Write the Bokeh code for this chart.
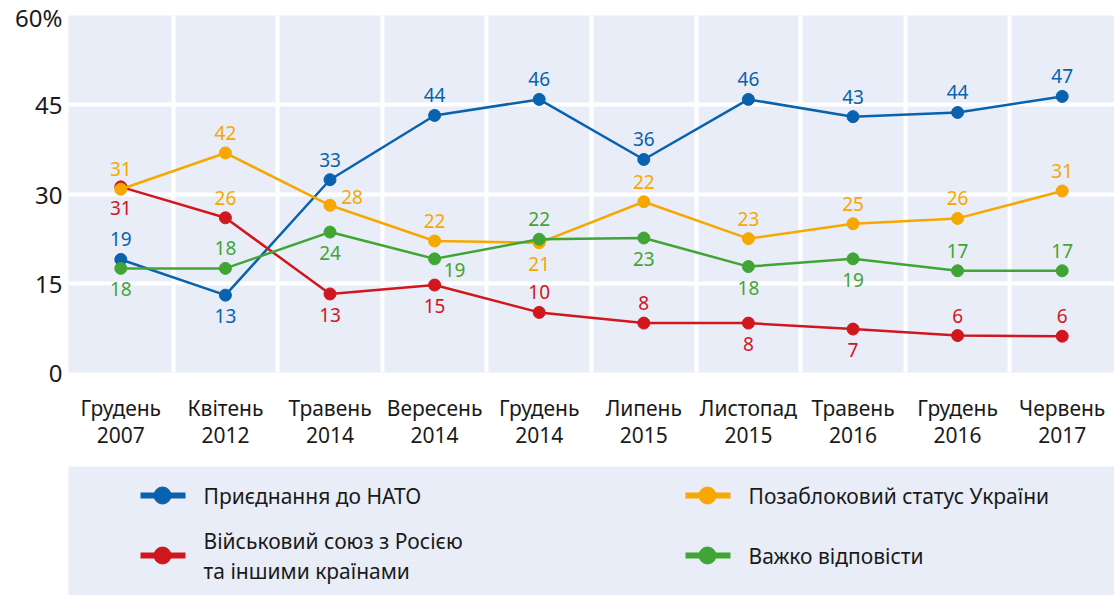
from bokeh.plotting import figure
from bokeh.models import FixedTicker, Range1d, ColumnDataSource, LinearAxis
from bokeh.layouts import column
from bokeh.core.properties import value
from bokeh.embed import file_html
from bokeh.resources import INLINE

# ---------------- data ----------------
categories = ["Грудень\n2007", "Квітень\n2012", "Травень\n2014", "Вересень\n2014", "Грудень\n2014",
              "Липень\n2015", "Листопад\n2015", "Травень\n2016", "Грудень\n2016", "Червень\n2017"]

series_names = ["Приєднання до НАТО", "Військовий союз з Росією\nта іншими країнами",
                "Позаблоковий статус України", "Важко відповісти"]

nato = [19.0, 13.0, 32.4, 43.2, 45.9, 35.8, 45.9, 43.0, 43.7, 46.4]
nato_labels = ["19", "13", "33", "44", "46", "36", "46", "43", "44", "47"]

russia = [31.2, 26.0, 13.2, 14.7, 10.1, 8.3, 8.3, 7.3, 6.2, 6.1]
russia_labels = ["31", "26", "13", "15", "10", "8", "8", "7", "6", "6"]

nonbloc = [30.8, 36.9, 28.1, 22.1, 21.8, 28.7, 22.5, 25.0, 25.9, 30.5]
nonbloc_labels = ["31", "42", "28", "22", "21", "22", "23", "25", "26", "31"]

hard = [17.5, 17.5, 23.6, 19.1, 22.4, 22.6, 17.8, 19.1, 17.1, 17.1]
hard_labels = ["18", "18", "24", "19", "22", "23", "18", "19", "17", "17"]

y_ticks = [0, 15, 30, 45, 60]

# ---------------- styles ----------------
BLUE = "#0862ae"
RED = "#d1171e"
ORANGE = "#f6a800"
GREEN = "#41a535"
BG = "#e8edf7"
TXT = "#1a1a1a"
FONT = "Noto Sans"

# label placement per point: a=above, b=below, r=right, rb=right-below
nato_pos = ["a", "b", "a", "a", "a", "a", "a", "a", "a", "a"]
russia_pos = ["b", "a", "b", "b", "a", "a", "b", "b", "a", "a"]
nonbloc_pos = ["a", "a", "r", "a", "b", "a", "a", "a", "a", "a"]
hard_pos = ["b", "a", "b", "rb", "a", "b", "b", "b", "a", "a"]
russia_label_colors = [RED, ORANGE, RED, RED, RED, RED, RED, RED, RED, RED]

OFFS = {"a": (0, -20), "b": (0, 21), "r": (22, -8), "rb": (20, 11)}

n = len(categories)
xs = list(range(n))
months = [c.split("\n")[0] for c in categories]
years = [c.split("\n")[1] for c in categories]

p = figure(width=1114, height=466, output_backend="svg", toolbar_location=None,
           x_range=Range1d(-0.5, n - 0.5), y_range=Range1d(0, 60),
           min_border_left=66, min_border_right=0, min_border_top=15, min_border_bottom=94)
p.outline_line_color = None
p.background_fill_color = BG
p.border_fill_color = "white"

p.xgrid.ticker = FixedTicker(ticks=[i + 0.5 for i in range(n - 1)])
p.ygrid.ticker = FixedTicker(ticks=[15, 30, 45])
for g in (p.xgrid, p.ygrid):
    g.grid_line_color = "white"
    g.grid_line_width = 4

year_axis = LinearAxis()
p.add_layout(year_axis, "below")

p.xaxis[0].ticker = FixedTicker(ticks=xs)
p.xaxis[0].major_label_overrides = {i: m for i, m in enumerate(months)}
year_axis.ticker = FixedTicker(ticks=xs)
year_axis.major_label_overrides = {i: y for i, y in enumerate(years)}

p.yaxis.ticker = FixedTicker(ticks=y_ticks)
p.yaxis.major_label_overrides = {t: (f"{t}%" if t == 60 else str(t)) for t in y_ticks}
for ax in list(p.xaxis) + list(p.yaxis):
    ax.axis_line_color = None
    ax.major_tick_line_color = None
    ax.minor_tick_line_color = None
    ax.major_tick_out = 0
    ax.major_tick_in = 0
    ax.minor_tick_out = 0
    ax.minor_tick_in = 0
    ax.major_label_text_color = TXT
    ax.major_label_text_font = FONT
for ax in p.xaxis:
    ax.major_label_text_font_size = "21px"
p.xaxis[0].major_label_standoff = 21
year_axis.major_label_standoff = 2
p.yaxis.major_label_text_font_size = "24px"
p.yaxis.major_label_standoff = 6

series = [
    (nato, nato_labels, nato_pos, [BLUE] * n, BLUE),
    (nonbloc, nonbloc_labels, nonbloc_pos, [ORANGE] * n, ORANGE),
    (russia, russia_labels, russia_pos, russia_label_colors, RED),
    (hard, hard_labels, hard_pos, [GREEN] * n, GREEN),
]
draw_order = [0, 2, 1, 3]
for idx in draw_order:
    vals, labs, pos, lcols, col = series[idx]
    src = ColumnDataSource(dict(
        x=xs, y=vals, t=labs, c=lcols,
        dx=[OFFS[q][0] for q in pos], dy=[OFFS[q][1] for q in pos]))
    p.line("x", "y", source=src, line_color=col, line_width=2.5)
    p.scatter("x", "y", source=src, size=12, fill_color=col, line_color=col)
    p.text("x", "y", text="t", source=src, text_color="c", x_offset="dx", y_offset="dy",
           text_align="center", text_baseline="middle", text_font=value(FONT),
           text_font_size="19px")

# ---------------- legend panel ----------------
leg = figure(width=1114, height=129, output_backend="svg", toolbar_location=None,
             x_range=Range1d(0, 1046), y_range=Range1d(0, 129),
             min_border_left=68, min_border_right=0, min_border_top=0, min_border_bottom=0)
leg.outline_line_color = None
leg.background_fill_color = BG
leg.border_fill_color = "white"
leg.xaxis.visible = False
leg.yaxis.visible = False
leg.xgrid.visible = False
leg.ygrid.visible = False

leg_colors = [BLUE, RED, ORANGE, GREEN]
leg_cx = [94, 94, 639, 639]
leg_cy = [100, 40, 100, 40]
LINE_GAP = 30
for name, col, cx, cy in zip(series_names, leg_colors, leg_cx, leg_cy):
    leg.segment(x0=[cx - 22], y0=[cy], x1=[cx + 23], y1=[cy], line_color=col, line_width=6)
    leg.scatter([cx], [cy], size=17, fill_color=col, line_color=col)
    lines = name.split("\n")
    k = len(lines)
    ly = [cy + (k - 1) * LINE_GAP / 2 - j * LINE_GAP for j in range(k)]
    leg.text([cx + 41] * k, ly, text=lines, text_align="left", text_baseline="middle",
             text_color=TXT, text_font=value(FONT), text_font_size="21px")

out = column(p, leg, spacing=0)
open("out.html", "w").write(file_html(out, INLINE))
